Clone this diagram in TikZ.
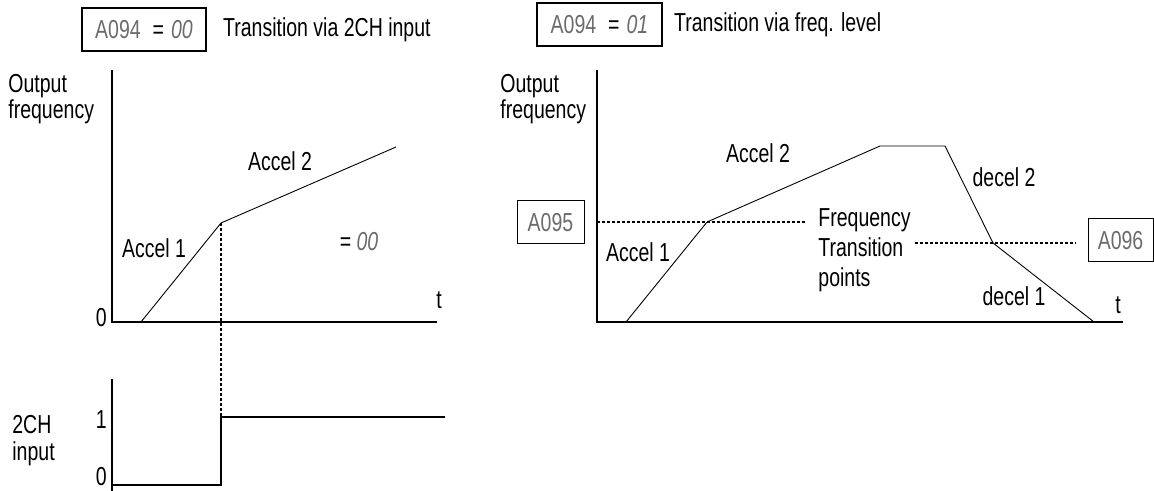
\documentclass[tikz,border=0pt]{standalone}
\usepackage{fontspec}
\setmainfont{Liberation Sans}[FakeStretch=0.75]
\usepackage{xcolor}
\usetikzlibrary{positioning}

\definecolor{seggray}{gray}{0.42}
\newcommand{\segtxt}[1]{{\color{seggray}#1}}
\newcommand{\segit}[1]{{\color{seggray}\itshape #1}}
\newcommand{\segmode}[2]{\segtxt{#1}\hspace{6pt}=\hspace{3.5pt}\segit{#2}}

\begin{document}
\begin{tikzpicture}[x=0.5pt, y=-0.5pt,
  every node/.style={font=\fontsize{13}{13}\selectfont, inner sep=0pt},
  axisline/.style={line width=1pt},
  ramp/.style={line width=0.45pt},
  stepline/.style={line width=0.7pt},
  dotline/.style={line width=0.8pt, dash pattern=on 1.5pt off 1pt},
  segbox/.style={draw, line width=0.8pt, minimum height=21.5pt},
  lbl/.style={align=left, anchor=north west}
]
\useasboundingbox (0,0) rectangle (1154,491);

% mode boxes
\node[segbox, minimum width=62pt] (mode1) at (144,29.5) {\segmode{A094}{00}};
\node[right=8pt of mode1] (title1) {Transition via 2CH input};
\node[segbox, minimum width=62.5pt] (mode2) at (599.5,24.5) {\segmode{A094}{01}};
\node[right=5.5pt of mode2] (title2) {Transition via freq. level};

% left: output frequency
\coordinate (o1) at (112,322);
\coordinate (y1) at (112,70);
\coordinate (t1) at (437,322);
\coordinate (s1) at (141,322);
\coordinate (b1) at (221,223);
\coordinate (e1) at (396,147);
\draw[axisline] (y1) -- (o1) -- (t1);
\draw[ramp] (s1) -- (b1) -- (e1);
\node[lbl] (of1) at (8,74) {Output\\frequency};
\node[anchor=east] (z1) at (107,318) {0};
\node (tl1) at (439,300) {t};
\node (acc1a) at (154,248) {Accel 1};
\node (acc2a) at (280,161) {Accel 2};
\node (eq1) at (359,242) {= \segit{00}};

% left: 2CH input
\coordinate (o3) at (112,485);
\coordinate (y3) at (112,379);
\coordinate (y3b) at (112,491);
\coordinate (lo) at (221,485);
\coordinate (hi) at (221,417);
\coordinate (hiend) at (445,417);
\draw[ramp, line width=0.6pt] (y3) -- (y3b);
\draw[stepline] (o3) -- (lo) -- (hi) -- (hiend);
\draw[dotline] (b1) -- (hi);
\node[lbl, font=\fontsize{13}{13.5}\selectfont] (ch) at (12,415) {2CH\\input};
\node[anchor=east] (one) at (107,420) {1};
\node[anchor=east] (z3) at (107,477) {0};

% right: output frequency
\coordinate (o2) at (597,322);
\coordinate (y2) at (597,70);
\coordinate (t2) at (1123,322);
\coordinate (s2) at (626,322);
\coordinate (b2) at (707,222);
\coordinate (p2a) at (880,146);
\coordinate (p2b) at (945,146);
\coordinate (c2) at (993,243);
\coordinate (e2) at (1094,322);
\draw[axisline] (y2) -- (o2) -- (t2);
\draw[ramp] (s2) -- (b2) -- (p2a) -- (p2b) -- (c2) -- (e2);
\node[lbl] (of2) at (500,74) {Output\\frequency};
\node (tl2) at (1118,305) {t};
\node (acc1b) at (638,252) {Accel 1};
\node (acc2b) at (758,153) {Accel 2};
\node (dec2) at (1004,177) {decel 2};
\node (dec1) at (1014,296) {decel 1};
\node[lbl, font=\fontsize{13}{15}\selectfont] (ftp) at (818,208) {Frequency\\Transition\\points};
\node[segbox, minimum width=33.5pt, line width=0.5pt] (a095) at (550.5,222.5) {\segtxt{A095}};
\node[segbox, minimum width=32.5pt, line width=0.5pt] (a096) at (1120.5,240.5) {\segtxt{A096}};

% transition levels
\coordinate (l1end) at (805,222);
\coordinate (l2start) at (915,243);
\coordinate (l2end) at (1076,243);
\draw[dotline] (o2 |- b2) -- (b2) -- (l1end);
\draw[dotline] (l2start) -- (c2) -- (l2end);
\end{tikzpicture}
\end{document}
